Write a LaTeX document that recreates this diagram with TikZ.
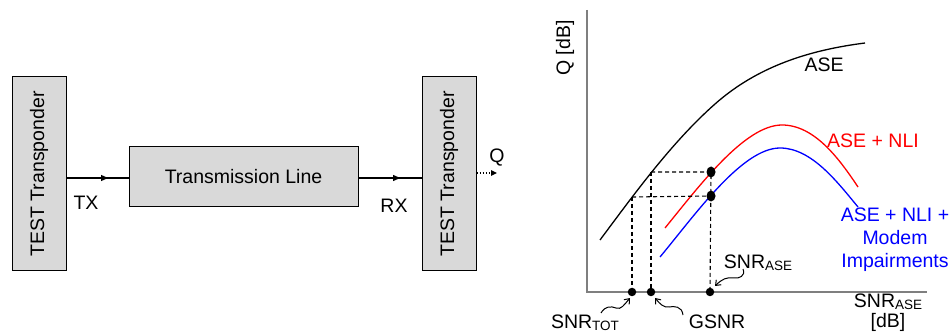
\documentclass[tikz,border=0pt]{standalone}
\usepackage{fontspec}
\setmainfont{Liberation Sans}
\usetikzlibrary{arrows.meta,decorations.markings,calc,shapes.geometric}

\definecolor{boxgray}{HTML}{D9D9D9}
\definecolor{axisgray}{HTML}{7F7F7F}
\definecolor{nlired}{HTML}{FF0000}
\definecolor{modblue}{HTML}{0000FF}

\newcommand{\snrsub}[1]{SNR\raisebox{-0.12em}{\fontsize{13.5}{14}\selectfont #1}}

\tikzset{
  blockbox/.style={draw, line width=1pt, fill=boxgray, inner sep=0pt},
  lbl/.style={inner sep=0pt, font=\fontsize{19.5}{23}\selectfont},
  midarrow/.style={line width=1.1pt, postaction={decorate},
    decoration={markings, mark=at position #1 with {\arrow{Triangle[length=7pt,width=6pt]}}}},
  axisline/.style={draw=axisgray, line width=1.2pt},
  curve/.style={line width=1.3pt},
  guide/.style={line width=1.1pt, dash pattern=on 4pt off 3pt},
  dot/.style={circle, fill=black, inner sep=0pt, minimum size=8.5pt},
  bigdot/.style={ellipse, fill=black, inner sep=0pt, minimum width=9pt, minimum height=11pt},
  squiggle/.style={line width=1pt, -{Straight Barb[length=4.5pt,width=7pt]}},
}

\begin{document}
\begin{tikzpicture}[x=1pt, y=-1pt]
\useasboundingbox (0,0) rectangle (952,336);

% ---- link set-up ----
\node[blockbox, minimum width=54pt, minimum height=194pt] (tx) at (39,174) {};
\node[lbl, rotate=90] at (tx.center) {TEST Transponder};
\node[blockbox, minimum width=229pt, minimum height=60pt] (line) at (243.5,177) {};
\node[lbl] at (line.center) {Transmission Line};
\node[blockbox, minimum width=54pt, minimum height=194pt] (rx) at (449,174) {};
\node[lbl, rotate=90] at (rx.center) {TEST Transponder};

\coordinate (txo) at (tx.east |- 0,178);
\coordinate (lin) at (line.west |- 0,178);
\coordinate (lout) at (line.east |- 0,178);
\coordinate (rxi) at (rx.west |- 0,178);
\draw[midarrow=0.67] (txo) -- (lin);
\draw[midarrow=0.66] (lout) -- (rxi);
\node[lbl] (txl) at (86,203) {TX};
\node[lbl] (rxl) at (394,206) {RX};

\coordinate (qs) at (rx.east |- 0,173);
\coordinate (qe) at (497,173);
\draw[line width=1.1pt, dotted, -{Triangle[length=6pt,width=5.5pt]}] (qs) -- (qe);
\node[lbl] (ql) at (497,158) {Q};

% ---- Q versus SNR plot ----
\coordinate (O) at (587,292);
\coordinate (ytop) at (587,10);
\coordinate (xend) at (927,292);
\draw[axisline] (ytop) -- (O) -- (xend);
\node[lbl, rotate=90] (yl) at (565,48) {Q [dB]};

% ASE only
\draw[curve] (600,240) .. controls (635,193) and (672,142) .. (715,104)
  .. controls (758,66) and (810,50) .. (865,43);
% ASE + NLI
\draw[curve, nlired] (665,228) .. controls (700,185) and (745,125) .. (782,125)
  .. controls (815,125) and (840,160) .. (858,187);
% ASE + NLI + modem impairments
\draw[curve, modblue] (660,257) .. controls (695,215) and (742,148) .. (780,148)
  .. controls (812,148) and (838,183) .. (858,207);

\node[lbl] (asel) at (824,65) {ASE};
\node[lbl, text=nlired] (nlil) at (873,141) {ASE + NLI};
\node[lbl, text=modblue, align=center] (modl) at (895,240) {ASE + NLI +\\Modem\\Impairments};

% operating points
\coordinate (aseHi) at (651,172);
\coordinate (aseLo) at (632,197);
\node[bigdot] (pR) at (711,172) {};
\node[bigdot] (pB) at (711,196) {};
\node[dot] (xt) at (632,292) {};
\node[dot] (xg) at (651,292) {};
\node[dot] (xa) at (710,292) {};

\draw[guide] (aseHi) -- (pR.center) -- (xa.center);
\draw[guide] (aseLo) -- (pB.center);
\draw[guide] (aseHi) -- (xg.center);
\draw[guide] (aseLo) -- (xt.center);

% labels on the axis
\node[lbl] (snra) at (758,263) {\snrsub{ASE}};
\node[lbl] (snrt) at (585,323) {\snrsub{TOT}};
\node[lbl] (gsnr) at (717,322) {GSNR};
\node[lbl] (xl1) at (888,302) {\snrsub{ASE}};
\node[lbl] (xl2) at (888,322) {[dB]};

\coordinate (sa) at (743,269);
\draw[squiggle] (sa) .. controls (746,276) and (739,279) .. (733,278)
  .. controls (727,277) and (722,279) .. (715,286);
\coordinate (st) at (601,313);
\draw[squiggle] (st) .. controls (605,306) and (611,306) .. (616,308)
  .. controls (621,310) and (624,305) .. (630,298);
\coordinate (sg) at (683,315);
\draw[squiggle] (sg) .. controls (682,306) and (674,306) .. (669,307)
  .. controls (664,308) and (660,304) .. (655,298);
\end{tikzpicture}
\end{document}
